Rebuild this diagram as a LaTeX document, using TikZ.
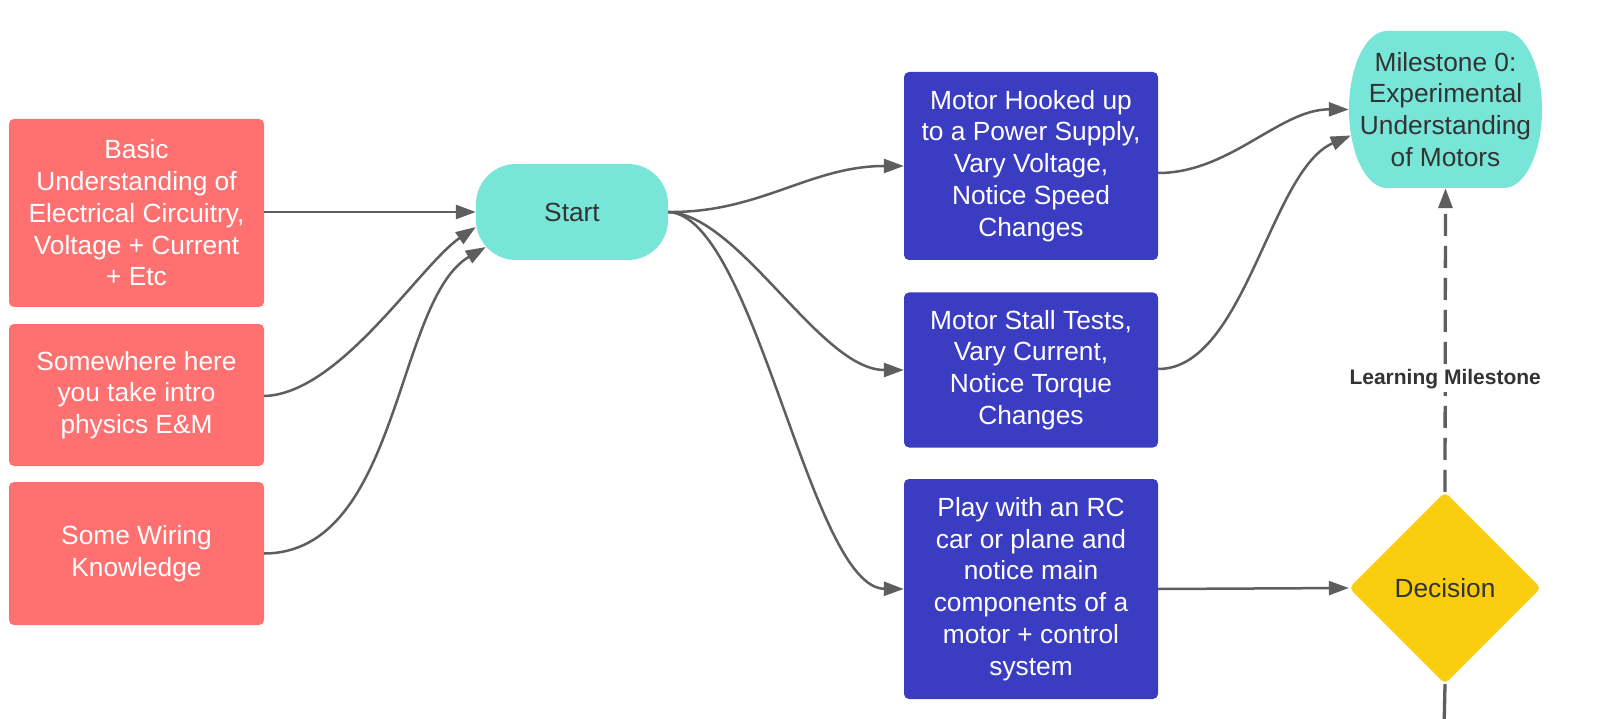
\documentclass[tikz,border=0pt]{standalone}
\usepackage{fontspec}
\setmainfont{Liberation Sans}
\usepackage{xcolor}
\usepackage{tikz}
\usetikzlibrary{shapes.geometric, arrows.meta, positioning}

\definecolor{prered}{HTML}{FF7070}
\definecolor{mint}{HTML}{77E6D8}
\definecolor{taskblue}{HTML}{3A3DC1}
\definecolor{gold}{HTML}{FACE0E}
\definecolor{wire}{HTML}{5E5E5E}
\definecolor{ink}{HTML}{333333}

\begin{document}
\begin{tikzpicture}[x=1pt, y=-1pt,
    txt/.style={font=\fontsize{26.3}{31.8}\selectfont, align=center, inner sep=0pt},
    prereq/.style={txt, rectangle, rounded corners=5pt, fill=prered, text=white, minimum width=255pt},
    task/.style={txt, rectangle, rounded corners=5pt, fill=taskblue, text=white, minimum width=254pt},
    link/.style={draw=wire, line width=2.5pt, -{Triangle[length=20pt,width=14pt]}}]
    \useasboundingbox[fill=white] (0,0) rectangle (1598,719);

    % Prerequisites
    \node[prereq, minimum height=188pt] (basics) at (136.5,213) {Basic\\Understanding of\\Electrical Circuitry,\\Voltage + Current\\+ Etc};
    \node[prereq, minimum height=142pt] (physics) at (136.5,395) {Somewhere here\\you take intro\\physics E\&M};
    \node[prereq, minimum height=143pt] (wiring) at (136.5,553.5) {Some Wiring\\Knowledge};

    % Start
    \node[txt, rectangle, rounded corners=40pt, fill=mint, text=ink, minimum width=192pt, minimum height=96pt] (start) at (572,212) {Start};

    % Experiments
    \node[task, minimum height=188pt] (supply) at (1031,166) {Motor Hooked up\\to a Power Supply,\\Vary Voltage,\\Notice Speed\\Changes};
    \node[task, minimum height=155pt] (stall) at (1031,370) {Motor Stall Tests,\\Vary Current,\\Notice Torque\\Changes};
    \node[task, minimum height=220pt] (rccar) at (1031,589) {Play with an RC\\car or plane and\\notice main\\components of a\\motor + control\\system};

    % Milestone
    \node[txt, rectangle, text=ink, minimum width=193pt, minimum height=157pt,
          path picture={\fill[mint] ([xshift=38pt]path picture bounding box.north west)
              -- ([xshift=-38pt]path picture bounding box.north east)
              arc[start angle=90, end angle=-90, x radius=38pt, y radius=78.5pt]
              -- ([xshift=38pt]path picture bounding box.south west)
              arc[start angle=270, end angle=90, x radius=38pt, y radius=78.5pt] -- cycle;}]
          (milestone) at (1445.5,109.5) {Milestone 0:\\Experimental\\Understanding\\of Motors};

    % Decision
    \node[txt, diamond, rounded corners=5pt, fill=gold, text=ink, minimum width=192pt, minimum height=192pt] (decision) at (1445,588) {Decision};
    \coordinate (exit) at (1444,730);

    % Into start
    \draw[link] (basics.east |- start.west) -- (start.west);
    \draw[link] ([yshift=-1pt]physics.east) .. controls (340,394) and (420,265) .. ([yshift=-15pt]start.west);
    \draw[link] (wiring.east) .. controls (400,553) and (395,300) .. ([xshift=10pt,yshift=-35pt]start.west);

    % Out of start
    \draw[link] (start.east) .. controls (760,213) and (810,166) .. (supply.west);
    \draw[link] (start.east) .. controls (740,215) and (820,370) .. (stall.west);
    \draw[link] (start.east) .. controls (755,215) and (810,588) .. (rccar.west);

    % Towards the milestone
    \draw[link] ([yshift=-7pt]supply.east) .. controls (1230,173) and (1280,109) .. (milestone.west);
    \draw[link] ([yshift=1pt]stall.east) .. controls (1245,369) and (1270,170) .. ([xshift=2pt,yshift=-26pt]milestone.west);
    \draw[link] (rccar.east) -- (decision.west);

    % Learning milestone
    \draw[draw=wire, line width=3.3pt, dash pattern=on 22pt off 10pt, -{Triangle[length=20pt,width=14pt]}] (decision.north) -- node[pos=0.37, fill=white, text=ink, inner sep=3pt, font=\bfseries\fontsize{21}{25}\selectfont] {Learning Milestone} (milestone.south);
    \draw[draw=wire, line width=3.3pt] (decision.south) -- (exit);
\end{tikzpicture}
\end{document}
